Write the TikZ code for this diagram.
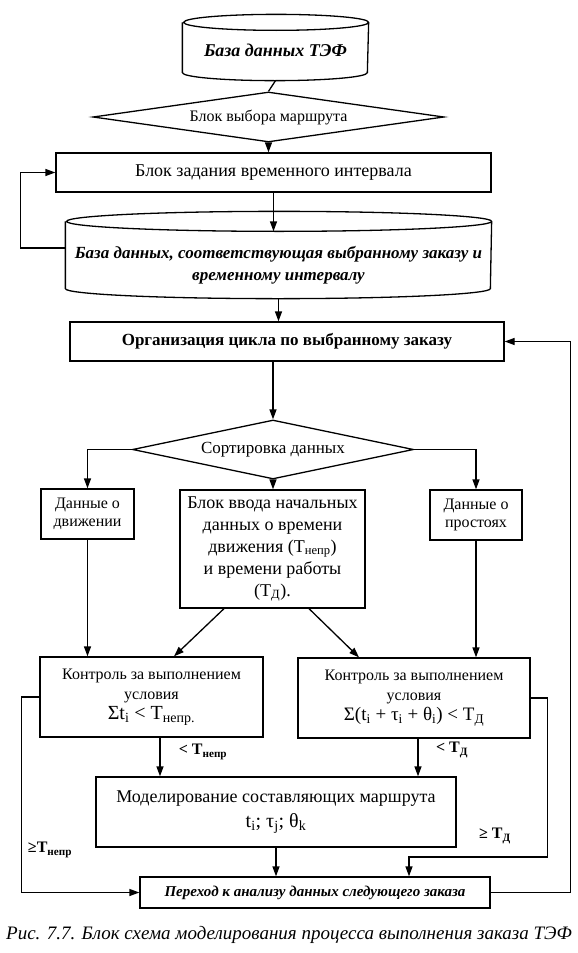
\documentclass[tikz,border=0pt]{standalone}
\usepackage{fontspec}
\setmainfont{Liberation Serif}
\usetikzlibrary{shapes.geometric,arrows.meta,calc}
\newcommand{\cylshape}[3]{%
  \draw ([yshift=-#3pt]#1.north west) -- ([yshift=#3pt]#1.south west)
    arc[start angle=180,end angle=360,x radius=#2pt,y radius=#3pt]
    -- ([yshift=-#3pt]#1.north east)
    arc[start angle=0,end angle=360,x radius=#2pt,y radius=#3pt];}
\newcommand{\fsz}[2]{\fontsize{#1}{#2}\selectfont}
\begin{document}
\begin{tikzpicture}[x=1pt,y=-1pt,line width=1.3pt,
  box/.style={draw, rectangle, inner sep=0pt, align=center},
  frame/.style={rectangle, inner sep=0pt},
  txt/.style={inner sep=0pt, align=center},
  dia/.style={draw, diamond, aspect=6, inner sep=0pt},
  arr/.style={-{Triangle[length=10pt,width=7pt]}},
  lbl/.style={inner sep=0pt, font=\fsz{16}{18}\bfseries}]
\useasboundingbox (0,0) rectangle (578,953);
% nodes
\node[frame, minimum width=185pt, minimum height=65pt] (db1) at (275.5,47.5) {};
\cylshape{db1}{92.5}{8}
\node[txt, font=\fsz{18}{21}\bfseries\itshape] (db1t) at (275.5,50) {База данных ТЭФ};
\node[dia, minimum width=351pt, minimum height=50pt, font=\fsz{16}{19}] (d1) at (268.5,117) {Блок выбора маршрута};
\node[box, minimum width=435pt, minimum height=39pt, font=\fsz{18}{21}] (r1) at (273.5,172.5) {Блок задания временного интервала};
\node[frame, minimum width=425pt, minimum height=86pt] (db2) at (278.5,255) {};
\cylshape{db2}{212.5}{10}
\node[txt, font=\fsz{17}{22}\bfseries\itshape] (db2t) at (278.5,265) {База данных, соответствующая выбранному заказу и\\временному интервалу};
\node[box, minimum width=434pt, minimum height=39pt, font=\fsz{17}{20}\bfseries] (r2) at (287,341.5) {Организация цикла по выбранному заказу};
\node[dia, minimum width=281pt, minimum height=59pt, font=\fsz{17}{20}] (d2) at (273,449.5) {Сортировка данных};
\node[box, minimum width=93pt, minimum height=50pt, font=\fsz{16}{18}] (b1) at (87.5,514) {Данные о\\движении};
\node[box, minimum width=185pt, minimum height=118pt, font=\fsz{18}{22}] (b2) at (272.5,549) {Блок ввода начальных\\данных о времени\\движения (T\textsubscript{непр})\\и времени работы\\(T\textsubscript{Д}).};
\node[box, minimum width=92pt, minimum height=50pt, font=\fsz{16}{18}] (b3) at (476,515) {Данные о\\простоях};
\node[box, minimum width=223pt, minimum height=80pt, font=\fsz{16}{20}] (c1) at (151.5,697) {Контроль за выполнением\\условия\\\fsz{20}{23}Σt\textsubscript{i} < T\textsubscript{непр.}};
\node[box, minimum width=232pt, minimum height=80pt, font=\fsz{16}{20}] (c2) at (414,698) {Контроль за выполнением\\условия\\\fsz{19}{23}Σ(t\textsubscript{i} + τ\textsubscript{i} + θ\textsubscript{i}) < T\textsubscript{Д}};
\node[box, minimum width=360pt, minimum height=70pt, font=\fsz{18}{25}] (m) at (276,812) {Моделирование составляющих маршрута\\\fsz{20}{25}t\textsubscript{i}; τ\textsubscript{j}; θ\textsubscript{k}};
\node[box, minimum width=350pt, minimum height=31pt, font=\fsz{15}{18}\bfseries\itshape] (p) at (315,892.5) {Переход к анализу данных следующего заказа};
\node[txt, font=\fsz{19}{22}\itshape] (cap) at (289,935) {Рис. 7.7. Блок схема моделирования процесса выполнения заказа ТЭФ};
% labels
\node[lbl] (l1) at (203,752) {< T\textsubscript{непр}};
\node[lbl] (l2) at (452,750) {< T\textsubscript{Д}};
\node[lbl] (l3) at (495,836) {≥ T\textsubscript{Д}};
\node[lbl] (l4) at (50,850) {≥T\textsubscript{непр}};
% helper coordinates
\coordinate (db2front) at ([yshift=-20pt]db2.north);
% connectors
\draw (db1.south) -- (d1.north);
\draw[arr] (d1.south) -- (d1.south |- r1.north);
\draw[arr] (r1.south) -- (r1.south |- db2front);
\draw[arr] ([yshift=7pt]db2.west) -- ++(-45,0) |- (r1.west);
\draw[arr] (db2.south) -- (db2.south |- r2.north);
\draw[arr] (r2.south -| d2.north) -- (d2.north);
\draw[arr] (d2.west) -| (b1.north);
\draw[arr] (d2.east) -| (b3.north);
\draw[arr] (d2.south) -- (d2.south |- b2.north);
\draw[arr] (b1.south) -- (b1.south |- c1.north);
\draw[arr] ([xshift=-48.5pt]b2.south) -- ([xshift=22.5pt]c1.north);
\draw[arr] ([xshift=36.5pt]b2.south) -- ([xshift=-55pt]c2.north);
\draw[arr] (b3.south) -- (b3.south |- c2.north);
\draw[arr] ([xshift=8.5pt]c1.south) -- ([xshift=8.5pt]c1.south |- m.north);
\draw[arr] ([xshift=4pt]c2.south) -- ([xshift=4pt]c2.south |- m.north);
\draw[arr] (c1.west) -- ++(-18,0) |- (p.west);
\draw[arr] (c2.east) -- ++(17,0) -- ++(0,159) -| ([xshift=94pt]p.north);
\draw[arr] (m.south) -- (m.south |- p.north);
\draw[arr] (p.east) -- ++(80,0) |- (r2.east);
\end{tikzpicture}
\end{document}
